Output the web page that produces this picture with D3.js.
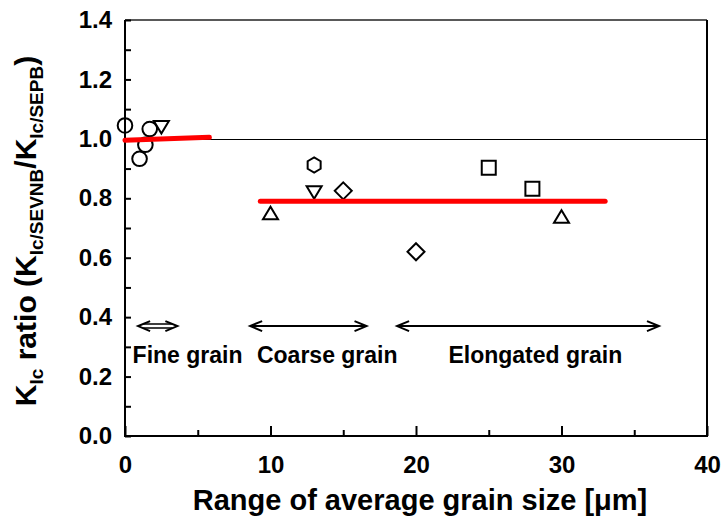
<!DOCTYPE html>
<html><head><meta charset="utf-8">
<script src="https://cdn.jsdelivr.net/npm/d3@7/dist/d3.min.js"></script>
<style>
body{margin:0;background:#fff;}
text{font-family:"Liberation Sans",Arial,sans-serif;font-weight:bold;fill:#000;}
</style></head>
<body><svg id="c" width="724" height="523"></svg>
<script>
// ---- data ----
const xTicksMajor = [0, 10, 20, 30, 40];
const xTicksMinor = [5, 15, 25, 35];
const yTicks = [0.0, 0.2, 0.4, 0.6, 0.8, 1.0, 1.2, 1.4];
const yTicksMinor = [0.1, 0.3, 0.5, 0.7, 0.9, 1.1, 1.3];

const circleX = [0, 1.0, 1.7, 1.4];
const circleY = [1.045, 0.933, 1.033, 0.98];
const triDownX = [2.5, 13];
const triDownY = [1.04, 0.82];
const hexX = [13];
const hexY = [0.912];
const diamondX = [15, 20];
const diamondY = [0.825, 0.62];
const triUpX = [10, 30];
const triUpY = [0.75, 0.738];
const squareX = [25, 28];
const squareY = [0.903, 0.832];

const fineFitX = [0, 5.8];
const fineFitY = [0.995, 1.005];
const coarseFitX = [9.3, 33];
const coarseFitY = [0.79, 0.79];
const refLineY = 1.0;

const regionLabels = ["Fine grain", "Coarse grain", "Elongated grain"];
const regionStart = [0.9, 8.6, 18.7];
const regionEnd = [3.6, 16.6, 36.7];
const regionLabelX = [4.3, 13.9, 28.2];
const regionArrowY = 0.37;
const regionLabelY = 0.25;

// ---- layout ----
const svg = d3.select("#c");
const L = 125, T = 20, W = 582, H = 416;
const x = d3.scaleLinear().domain([0, 40]).range([L, L + W]);
const y = d3.scaleLinear().domain([0, 1.4]).range([T + H, T]);
const g = svg.append("g");
const FONT = "Liberation Sans, Arial, sans-serif";

// reference line
g.append("line").attr("x1", x(0)).attr("x2", x(40)).attr("y1", Math.round(y(refLineY)) + 0.5).attr("y2", Math.round(y(refLineY)) + 0.5)
  .attr("stroke", "#000").attr("stroke-width", 1);

// frame
g.append("path").attr("d", `M${L},${T}H${L + W}`).attr("stroke", "#222").attr("stroke-width", 1.5);
g.append("path").attr("d", `M${L + W},${T}V${T + H}H${L}V${T}`).attr("fill", "none").attr("stroke", "#000").attr("stroke-width", 2);

// axes with inward ticks
const xAxis = d3.axisBottom(x).tickValues(xTicksMajor).tickSize(-10).tickPadding(20).tickFormat(d3.format("d"));
const xa = g.append("g").attr("transform", `translate(0,${T + H})`).call(xAxis);
xa.select(".domain").remove();
xa.selectAll(".tick line").attr("stroke-width", 2);
xa.selectAll("text").attr("font-size", 24).attr("font-family", FONT).attr("font-weight", "bold");
const xaMin = g.append("g").attr("transform", `translate(0,${T + H})`)
  .call(d3.axisBottom(x).tickValues(xTicksMinor).tickSize(-6).tickFormat(""));
xaMin.select(".domain").remove();
xaMin.selectAll(".tick line").attr("stroke-width", 2);

const yAxis = d3.axisLeft(y).tickValues(yTicks).tickSize(-6).tickPadding(13).tickFormat(d3.format(".1f"));
const ya = g.append("g").attr("transform", `translate(${L},0)`).call(yAxis);
ya.select(".domain").remove();
ya.selectAll(".tick line").attr("stroke-width", 2);
ya.selectAll("text").attr("font-size", 24).attr("font-family", FONT).attr("font-weight", "bold");
const yaMin = g.append("g").attr("transform", `translate(${L},0)`)
  .call(d3.axisLeft(y).tickValues(yTicksMinor).tickSize(-6).tickFormat(""));
yaMin.select(".domain").remove();
yaMin.selectAll(".tick line").attr("stroke-width", 2);

// markers
const mk = g.append("g").attr("fill", "none").attr("stroke", "#000").attr("stroke-width", 2);
circleX.forEach((v, i) => mk.append("circle").attr("cx", x(v)).attr("cy", y(circleY[i])).attr("r", 7.3));
function poly(px, py, pts) {
  mk.append("path").attr("d", "M" + pts.map(p => [px + p[0], py + p[1]].join(",")).join("L") + "Z");
}
triDownX.forEach((v, i) => poly(x(v), y(triDownY[i]), [[-7.5, -6], [7.5, -6], [0, 6.5]]));
triUpX.forEach((v, i) => poly(x(v), y(triUpY[i]), [[-7.5, 6], [7.5, 6], [0, -6.5]]));
diamondX.forEach((v, i) => poly(x(v), y(diamondY[i]), [[0, -8.5], [8.5, 0], [0, 8.5], [-8.5, 0]]));
squareX.forEach((v, i) => poly(x(v), y(squareY[i]), [[-7, -7], [7, -7], [7, 7], [-7, 7]]));
hexX.forEach((v, i) => {
  const pts = d3.range(6).map(k => { const a = Math.PI / 6 + k * Math.PI / 3; return [7.5 * Math.cos(a), 7.5 * Math.sin(a)]; });
  poly(x(v), y(hexY[i]), pts);
});

// fit lines
const line = d3.line().x(d => x(d[0])).y(d => y(d[1]));
[[fineFitX, fineFitY], [coarseFitX, coarseFitY]].forEach(([xs, ys]) => {
  g.append("path").attr("d", line(xs.map((v, i) => [v, ys[i]])))
    .attr("stroke", "#ff0000").attr("stroke-width", 5).attr("stroke-linecap", "round").attr("fill", "none");
});

// region arrows
const ar = g.append("g").attr("stroke", "#000").attr("fill", "none").attr("stroke-width", 2);
regionLabels.forEach((lab, i) => {
  const x1 = x(regionStart[i]), x2 = x(regionEnd[i]), yy = y(regionArrowY);
  const hl = 12, hh = 5;
  if (i === 0) {
    ar.append("path").attr("d", `M${x1 + 5},${yy - 2}H${x2 - 5}M${x1 + 5},${yy + 2}H${x2 - 5}`).attr("stroke-width", 1.6);
  } else {
    ar.append("path").attr("d", `M${x1},${yy}H${x2}`);
  }
  ar.append("path").attr("d", `M${x1 + hl},${yy - hh}L${x1},${yy}L${x1 + hl},${yy + hh}`);
  ar.append("path").attr("d", `M${x2 - hl},${yy - hh}L${x2},${yy}L${x2 - hl},${yy + hh}`);
  g.append("text").attr("x", x(regionLabelX[i])).attr("y", y(regionLabelY) + 1)
    .attr("text-anchor", "middle").attr("font-size", 23).text(lab);
});

// axis titles
svg.append("text").attr("x", 420).attr("y", 510).attr("text-anchor", "middle")
  .attr("font-size", 29).text("Range of average grain size [\u03BCm]");

const yt = svg.append("text").attr("transform", "translate(36,231) rotate(-90)").attr("text-anchor", "middle").attr("font-size", 30);
const parts = [["K", 0], ["Ic", 1], [" ratio (", 0], ["K", 0], ["Ic/SEVNB", 1], ["/K", 0], ["Ic/SEPB", 1], [")", 0]];
let prevSub = false;
parts.forEach(([t, sub]) => {
  const ts = yt.append("tspan").text(t);
  if (sub) { ts.attr("font-size", 19).attr("dy", 7); prevSub = true; }
  else { if (prevSub) ts.attr("dy", -7); prevSub = false; }
});
</script></body></html>
